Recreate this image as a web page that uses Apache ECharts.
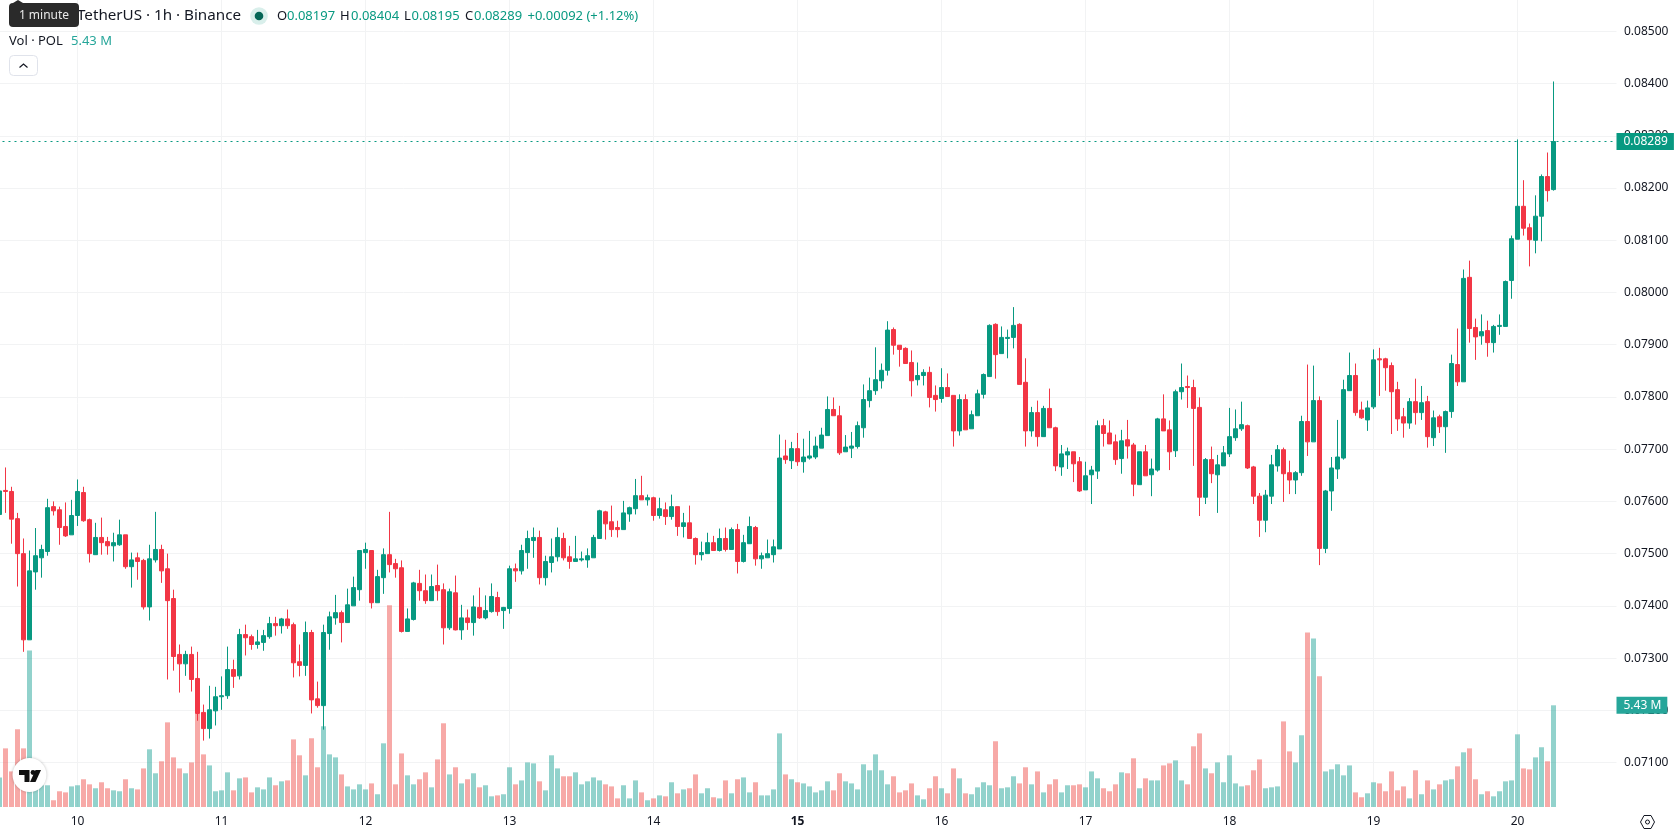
<!DOCTYPE html>
<html>
<head>
<meta charset="utf-8">
<title>POL / TetherUS 1h</title>
<script src="https://cdn.jsdelivr.net/npm/echarts@6/dist/echarts.min.js"></script>
<style>
html,body{margin:0;padding:0;background:#fff;overflow:hidden}
#chart{width:1678px;height:835px}
</style>
</head>
<body>
<div id="chart"></div>
<script>
// Hourly POL/USDT candles, prices in units of 0.00001
const opens = [
7575,7621,7619,7567,7500,7335,7465,7492,7504,7590,
7584,7552,7536,7573,7617,7565,7498,7531,7523,7515,
7517,7536,7475,7492,7487,7398,7488,7508,7471,7414,
7307,7289,7307,7261,7196,7165,7199,7226,7228,7278,
7266,7345,7341,7326,7330,7341,7366,7362,7375,7364,
7293,7286,7349,7222,7209,7347,7377,7387,7368,7400,
7431,7502,7506,7406,7454,7498,7481,7473,7351,7374,
7443,7429,7410,7439,7431,7358,7425,7354,7377,7368,
7397,7377,7389,7416,7391,7395,7471,7467,7502,7525,
7531,7454,7483,7494,7529,7494,7485,7488,7488,7492,
7529,7580,7561,7550,7546,7576,7586,7611,7603,7607,
7573,7584,7571,7590,7552,7559,7529,7498,7500,7521,
7506,7529,7508,7546,7485,7519,7550,7490,7492,7498,
7509,7687,7678,7701,7676,7683,7685,7702,7726,7776,
7764,7695,7702,7705,7741,7793,7812,7831,7851,7929,
7899,7893,7866,7833,7841,7847,7803,7797,7818,7803,
7735,7795,7739,7764,7805,7839,7939,7883,7912,7914,
7939,7828,7735,7770,7724,7778,7741,7666,7689,7695,
7676,7622,7651,7658,7745,7731,7714,7682,7718,7708,
7632,7695,7651,7660,7758,7737,7697,7810,7820,7818,
7780,7608,7680,7651,7668,7691,7722,7739,7745,7666,
7610,7564,7610,7668,7699,7655,7641,7655,7753,7714,
7793,7510,7620,7662,7683,7812,7841,7775,7756,7781,
7873,7873,7860,7814,7762,7750,7791,7770,7791,7722,
7762,7743,7772,7862,7829,8029,7933,7917,7927,7904,
7935,7935,8023,8102,8165,8124,8100,8146,8222,8197];
const highs = [
7622,7665,7628,7578,7529,7506,7549,7517,7605,7600,
7590,7598,7603,7642,7628,7567,7559,7569,7532,7540,
7565,7536,7502,7502,7490,7517,7580,7517,7500,7431,
7326,7314,7322,7312,7211,7247,7245,7265,7322,7297,
7356,7364,7345,7354,7354,7379,7379,7377,7393,7368,
7326,7370,7354,7255,7364,7389,7421,7391,7433,7456,
7506,7521,7506,7469,7510,7580,7490,7487,7395,7446,
7469,7460,7460,7479,7443,7433,7458,7402,7393,7420,
7435,7420,7443,7427,7398,7477,7481,7517,7544,7550,
7544,7496,7529,7550,7540,7515,7534,7504,7510,7536,
7584,7582,7592,7563,7601,7590,7643,7649,7613,7609,
7607,7598,7613,7590,7578,7592,7531,7523,7540,7534,
7548,7550,7550,7557,7536,7571,7553,7502,7527,7527,
7728,7718,7714,7731,7720,7735,7724,7741,7801,7799,
7783,7727,7733,7753,7824,7837,7895,7864,7945,7933,
7899,7895,7889,7866,7853,7858,7822,7855,7845,7803,
7805,7805,7774,7814,7845,7939,7941,7935,7929,7972,
7941,7874,7781,7793,7783,7816,7743,7708,7703,7695,
7685,7676,7668,7755,7758,7755,7728,7737,7756,7712,
7695,7708,7682,7760,7805,7755,7814,7864,7841,7833,
7799,7683,7705,7689,7706,7779,7776,7791,7747,7668,
7616,7622,7689,7708,7703,7678,7658,7764,7862,7860,
7801,7622,7685,7756,7833,7885,7864,7791,7793,7891,
7894,7875,7866,7829,7779,7798,7835,7821,7802,7774,
7766,7774,7881,7931,8044,8061,7950,7958,7946,7938,
7958,8023,8109,8293,8215,8132,8186,8226,8268,8404];
const lows = [
7572,7578,7519,7437,7312,7335,7431,7454,7496,7573,
7517,7532,7536,7553,7561,7483,7498,7498,7498,7485,
7515,7471,7435,7450,7393,7372,7483,7444,7259,7276,
7234,7266,7236,7180,7142,7146,7171,7201,7222,7243,
7259,7305,7316,7318,7314,7337,7343,7347,7356,7263,
7265,7266,7194,7205,7163,7316,7364,7330,7368,7400,
7410,7471,7395,7406,7423,7464,7454,7349,7351,7372,
7410,7404,7410,7410,7326,7354,7353,7335,7354,7343,
7375,7374,7387,7381,7356,7385,7446,7460,7471,7492,
7441,7439,7464,7485,7487,7471,7485,7485,7473,7492,
7529,7527,7532,7531,7546,7561,7575,7603,7592,7563,
7567,7555,7565,7534,7531,7529,7479,7487,7500,7506,
7504,7504,7508,7462,7483,7519,7477,7471,7492,7483,
7509,7672,7662,7668,7655,7680,7681,7702,7726,7764,
7689,7695,7683,7701,7722,7780,7804,7816,7841,7881,
7858,7864,7801,7822,7822,7780,7772,7789,7801,7705,
7726,7737,7739,7764,7797,7839,7835,7883,7874,7893,
7824,7705,7724,7705,7724,7741,7658,7649,7662,7637,
7618,7622,7595,7643,7705,7710,7670,7653,7682,7610,
7632,7649,7610,7657,7735,7660,7685,7795,7779,7668,
7572,7595,7635,7578,7668,7685,7716,7735,7662,7595,
7532,7541,7595,7657,7599,7614,7614,7649,7687,7714,
7478,7501,7582,7643,7680,7812,7764,7758,7735,7777,
7802,7812,7729,7735,7722,7739,7747,7756,7703,7706,
7731,7693,7760,7821,7829,7904,7871,7900,7877,7885,
7919,7935,7988,8102,8109,8050,8075,8098,8174,8195];
const closes = [
7620,7619,7566,7500,7335,7467,7496,7508,7588,7582,
7550,7534,7573,7619,7563,7500,7531,7521,7515,7521,
7536,7475,7488,7485,7398,7490,7508,7467,7410,7303,
7289,7307,7259,7194,7165,7201,7226,7228,7278,7265,
7345,7339,7326,7331,7343,7366,7362,7375,7362,7291,
7286,7349,7220,7209,7349,7379,7387,7368,7402,7435,
7506,7508,7406,7456,7498,7479,7471,7351,7375,7444,
7429,7410,7437,7429,7358,7427,7354,7377,7368,7398,
7377,7391,7418,7389,7397,7471,7467,7506,7529,7531,
7454,7485,7494,7531,7492,7485,7490,7490,7496,7531,
7582,7557,7546,7546,7578,7588,7611,7603,7607,7573,
7586,7571,7590,7552,7559,7529,7498,7502,7521,7506,
7529,7508,7546,7485,7521,7552,7490,7496,7500,7513,
7683,7680,7701,7676,7685,7687,7706,7727,7776,7764,
7693,7704,7706,7745,7795,7812,7833,7851,7928,7899,
7891,7864,7831,7841,7847,7799,7795,7818,7801,7735,
7795,7737,7766,7806,7843,7937,7881,7914,7914,7937,
7824,7735,7770,7724,7778,7741,7668,7691,7695,7672,
7620,7649,7660,7745,7730,7710,7680,7716,7706,7633,
7695,7649,7662,7758,7735,7695,7810,7818,7818,7778,
7608,7680,7653,7670,7693,7724,7739,7747,7664,7610,
7564,7612,7670,7699,7653,7641,7655,7753,7714,7793,
7510,7620,7664,7685,7814,7841,7770,7760,7779,7871,
7871,7856,7810,7758,7750,7791,7770,7789,7724,7760,
7743,7772,7864,7829,8027,7931,7915,7925,7904,7935,
7937,8021,8103,8165,8123,8101,8146,8222,8195,8289];
// Traded volume per candle, millions of POL
const volumes = [
1.58,3.13,1.90,4.15,3.13,8.36,1.16,1.16,1.16,.36,
.84,.78,1.10,1.16,1.48,1.21,1.0,1.32,1.0,.89,
.84,1.48,1.0,.94,2.06,3.08,1.80,2.44,4.52,2.65,
2.06,1.80,2.38,4.98,2.81,2.22,.84,.89,1.85,.89,
1.53,1.58,.78,1.05,.94,1.58,1.16,1.37,1.42,3.61,
2.76,1.69,3.67,2.12,4.31,2.81,2.65,1.74,1.10,.94,
1.21,.94,1.26,.68,3.40,10.77,1.21,2.86,1.69,1.21,
1.48,1.85,1.05,2.54,4.47,1.74,2.12,1.26,1.48,1.80,
1.05,1.16,.57,.62,.68,2.12,1.21,1.42,2.38,2.33,
1.37,.89,2.76,2.06,1.64,1.64,1.85,1.21,1.37,1.58,
1.42,1.21,1.10,.46,1.16,.46,1.42,.78,.36,.46,
.62,.57,1.32,.73,.94,1.0,1.74,.73,1.0,.52,
.46,1.42,.73,1.48,1.58,.78,1.32,.62,.62,.94,
3.93,1.74,1.48,1.32,1.26,1.10,.78,.89,1.37,.89,
1.80,1.37,1.26,.94,2.28,1.96,2.81,1.96,1.21,1.64,
.78,.89,1.26,.62,.41,1.0,1.64,1.0,.73,2.06,
1.53,.73,.68,1.05,1.32,1.16,3.51,1.0,1.05,1.64,
1.26,2.12,1.21,1.90,.78,1.21,1.48,.78,1.16,1.16,
1.21,1.05,1.90,1.53,1.0,.84,1.21,1.85,1.80,2.60,
1.0,1.53,1.42,1.42,2.22,2.33,2.49,1.42,1.21,3.24,
3.93,2.06,1.80,2.38,1.32,2.76,1.26,1.10,1.16,1.96,
2.54,1.0,1.05,1.10,4.57,2.97,2.38,3.83,9.32,9.0,
6.98,1.90,2.01,2.28,1.69,2.22,.78,.52,.73,1.32,
1.26,.84,1.90,.89,1.10,.46,1.96,.68,1.42,.94,
1.21,1.42,1.48,2.17,2.92,3.13,1.48,.68,.84,.57,
.84,1.37,1.42,3.88,2.06,2.01,2.65,3.19,2.44,5.43];
const priceTicks = [0.071,0.072,0.073,0.074,0.075,0.076,0.077,0.078,0.079,0.08,0.081,0.082,0.083,0.084,0.085];
const boldDays = ['15'];

// The series starts on day 9 at 11:00; a stretch of empty hours follows the last candle.
const FIRST_DAY = 9, FIRST_HOUR = 11, SLOTS = 270;
const categories = [];
for (let i = 0; i < SLOTS; i++) {
  const h = FIRST_HOUR + i;
  categories.push((FIRST_DAY + Math.floor(h / 24)) + ' ' + String(h % 24).padStart(2, '0') + ':00');
}
const isMidnight = (idx, value) => categories[idx].endsWith(' 00:00');

const STEP = 0.00001;
const price = t => +(t * STEP).toFixed(5);
const fmt = t => price(t).toFixed(5);

const UP = '#089981', DOWN = '#f23645';
const UP_VOL = 'rgba(38,166,154,0.5)', DOWN_VOL = 'rgba(239,83,80,0.5)';
const VOL_TEXT = '#26a69a';
const INK = '#131722', GRID = '#f2f3f4';
const FONT = '"Noto Sans", sans-serif';

const candles = opens.map((o, i) => [price(o), price(closes[i]), price(lows[i]), price(highs[i])]);
const volumeBars = volumes.map((v, i) => ({
  value: v,
  itemStyle: { color: closes[i] >= opens[i] ? UP_VOL : DOWN_VOL }
}));

const last = opens.length - 1;
const lastClose = closes[last], change = lastClose - opens[last];

// Header text and chart furniture
const txt = (text, x, y, size, fill, align) => ({
  type: 'text', z: 101,
  style: { text, x, y, fontSize: size, fontFamily: FONT, fill, align: align || 'left', verticalAlign: 'middle' }
});
const legendRow = [
  txt('TetherUS · 1h · Binance', 241, 16, 15.2, INK, 'right'),
  txt('O', 277, 16, 13, INK), txt(fmt(opens[last]), 287, 16, 13, UP),
  txt('H', 340, 16, 13, INK), txt(fmt(highs[last]), 351, 16, 13, UP),
  txt('L', 404, 16, 13, INK), txt(fmt(lows[last]), 411.5, 16, 13, UP),
  txt('C', 465, 16, 13, INK), txt(fmt(lastClose), 474, 16, 13, UP),
  txt('+' + (change * STEP).toFixed(5) + ' (+' + (change / opens[last] * 100).toFixed(2) + '%)', 527.5, 16, 13, UP),
  txt('Vol · POL', 9, 41, 13, INK),
  txt('5.43 M', 71, 41, 13, VOL_TEXT)
];
const furniture = [
  { type: 'circle', z: 100, shape: { cx: 259, cy: 16, r: 8.8 }, style: { fill: '#d9efeb' } },
  { type: 'circle', z: 100, shape: { cx: 259, cy: 16, r: 4.3 }, style: { fill: '#056656' } },
  // collapse button
  { type: 'rect', z: 100, shape: { x: 9.5, y: 55.5, width: 28, height: 20, r: 4 }, style: { fill: '#fff', stroke: '#e0e3eb', lineWidth: 1 } },
  { type: 'polyline', z: 101, shape: { points: [[19.5, 67.5], [23.5, 64], [27.5, 67.5]] }, style: { fill: 'none', stroke: INK, lineWidth: 1.2 } },
  // hover hint
  { type: 'rect', z: 102, shape: { x: 9, y: 3, width: 70, height: 24, r: 4 }, style: { fill: '#2a2a2a' } },
  { type: 'polygon', z: 102, shape: { points: [[13, 3], [18, 0], [23, 3]] }, style: { fill: '#2a2a2a' } },
  Object.assign(txt('1 minute', 44, 16, 12, '#e8e8e8', 'center'), { z: 103 }),
  // badge in the lower left
  { type: 'circle', z: 100, shape: { cx: 29.5, cy: 775, r: 17 }, style: { fill: '#fff', shadowBlur: 3, shadowColor: 'rgba(0,0,0,0.25)' } },
  { type: 'polygon', z: 101, shape: { points: [[19, 770], [29.5, 770], [29.5, 782], [24.5, 782], [24.5, 775], [19, 775]] }, style: { fill: '#111' } },
  { type: 'circle', z: 101, shape: { cx: 33, cy: 772.5, r: 2.4 }, style: { fill: '#111' } },
  { type: 'polygon', z: 101, shape: { points: [[35.5, 770], [41, 770], [35.5, 782], [30, 782]] }, style: { fill: '#111' } },
  // settings hexagon
  { type: 'polygon', z: 100, shape: { points: [[1640.5, 822], [1644, 815.5], [1651, 815.5], [1654.5, 822], [1651, 828.5], [1644, 828.5]] }, style: { fill: 'none', stroke: INK, lineWidth: 1 } },
  { type: 'circle', z: 100, shape: { cx: 1647.5, cy: 822, r: 2 }, style: { fill: 'none', stroke: INK, lineWidth: 1 } }
];

const chart = echarts.init(document.getElementById('chart'), null, { renderer: 'canvas' });
chart.setOption({
  animation: false,
  backgroundColor: '#fff',
  textStyle: { fontFamily: FONT },
  graphic: { elements: legendRow.concat(furniture) },
  grid: { left: -3.5, top: 0, width: 1620, height: 807, containLabel: false, outerBoundsMode: 'none' },
  xAxis: {
    type: 'category',
    data: categories,
    boundaryGap: true,
    axisLine: { show: false },
    axisTick: { show: false },
    axisLabel: {
      interval: isMidnight,
      margin: 9,
      color: INK,
      fontSize: 12,
      fontFamily: FONT,
      formatter: value => {
        const day = value.split(' ')[0];
        return boldDays.includes(day) ? '{bold|' + day + '}' : day;
      },
      rich: { bold: { fontWeight: 'bold', fontSize: 12, color: INK, fontFamily: FONT } }
    },
    splitLine: { show: true, interval: isMidnight, alignWithLabel: true, lineStyle: { color: GRID, width: 1 } }
  },
  yAxis: [
    {
      type: 'value',
      position: 'right',
      min: 0.070149,
      max: 0.0856,
      axisLine: { show: false },
      axisTick: { show: false, customValues: priceTicks },
      axisLabel: {
        customValues: priceTicks,
        margin: 7.5,
        color: INK,
        fontSize: 12,
        fontFamily: FONT,
        formatter: v => v.toFixed(5)
      },
      splitLine: { show: true, lineStyle: { color: GRID, width: 1 } }
    },
    { type: 'value', show: false, min: 0, max: 43.09, splitLine: { show: false } }
  ],
  series: [
    {
      name: 'Vol',
      type: 'bar',
      yAxisIndex: 1,
      z: 1,
      barWidth: 5,
      silent: true,
      data: volumeBars,
      markLine: {
        silent: true,
        symbol: 'none',
        precision: 2,
        lineStyle: { color: 'transparent', width: 0 },
        data: [{ yAxis: volumes[last] }],
        label: {
          show: true,
          position: 'end',
          distance: 0,
          formatter: volumes[last].toFixed(2) + ' M',
          backgroundColor: VOL_TEXT,
          color: '#fff',
          fontSize: 12,
          fontFamily: FONT,
          lineHeight: 17,
          padding: [0, 6, 0, 7]
        }
      }
    },
    {
      name: 'POLUSDT',
      type: 'candlestick',
      z: 3,
      barWidth: 4,
      silent: true,
      large: false,
      progressive: 0,
      data: candles,
      itemStyle: { color: UP, color0: DOWN, borderColor: UP, borderColor0: DOWN, borderWidth: 1 },
      markLine: {
        silent: true,
        symbol: 'none',
        precision: 5,
        lineStyle: { color: UP, width: 1, type: [2, 4] },
        data: [{ yAxis: price(lastClose) }],
        label: {
          position: 'end',
          distance: 0,
          formatter: fmt(lastClose),
          backgroundColor: UP,
          color: '#fff',
          fontSize: 12,
          fontFamily: FONT,
          lineHeight: 17,
          padding: [0, 6, 0, 7]
        }
      }
    }
  ]
});
</script>
</body>
</html>
